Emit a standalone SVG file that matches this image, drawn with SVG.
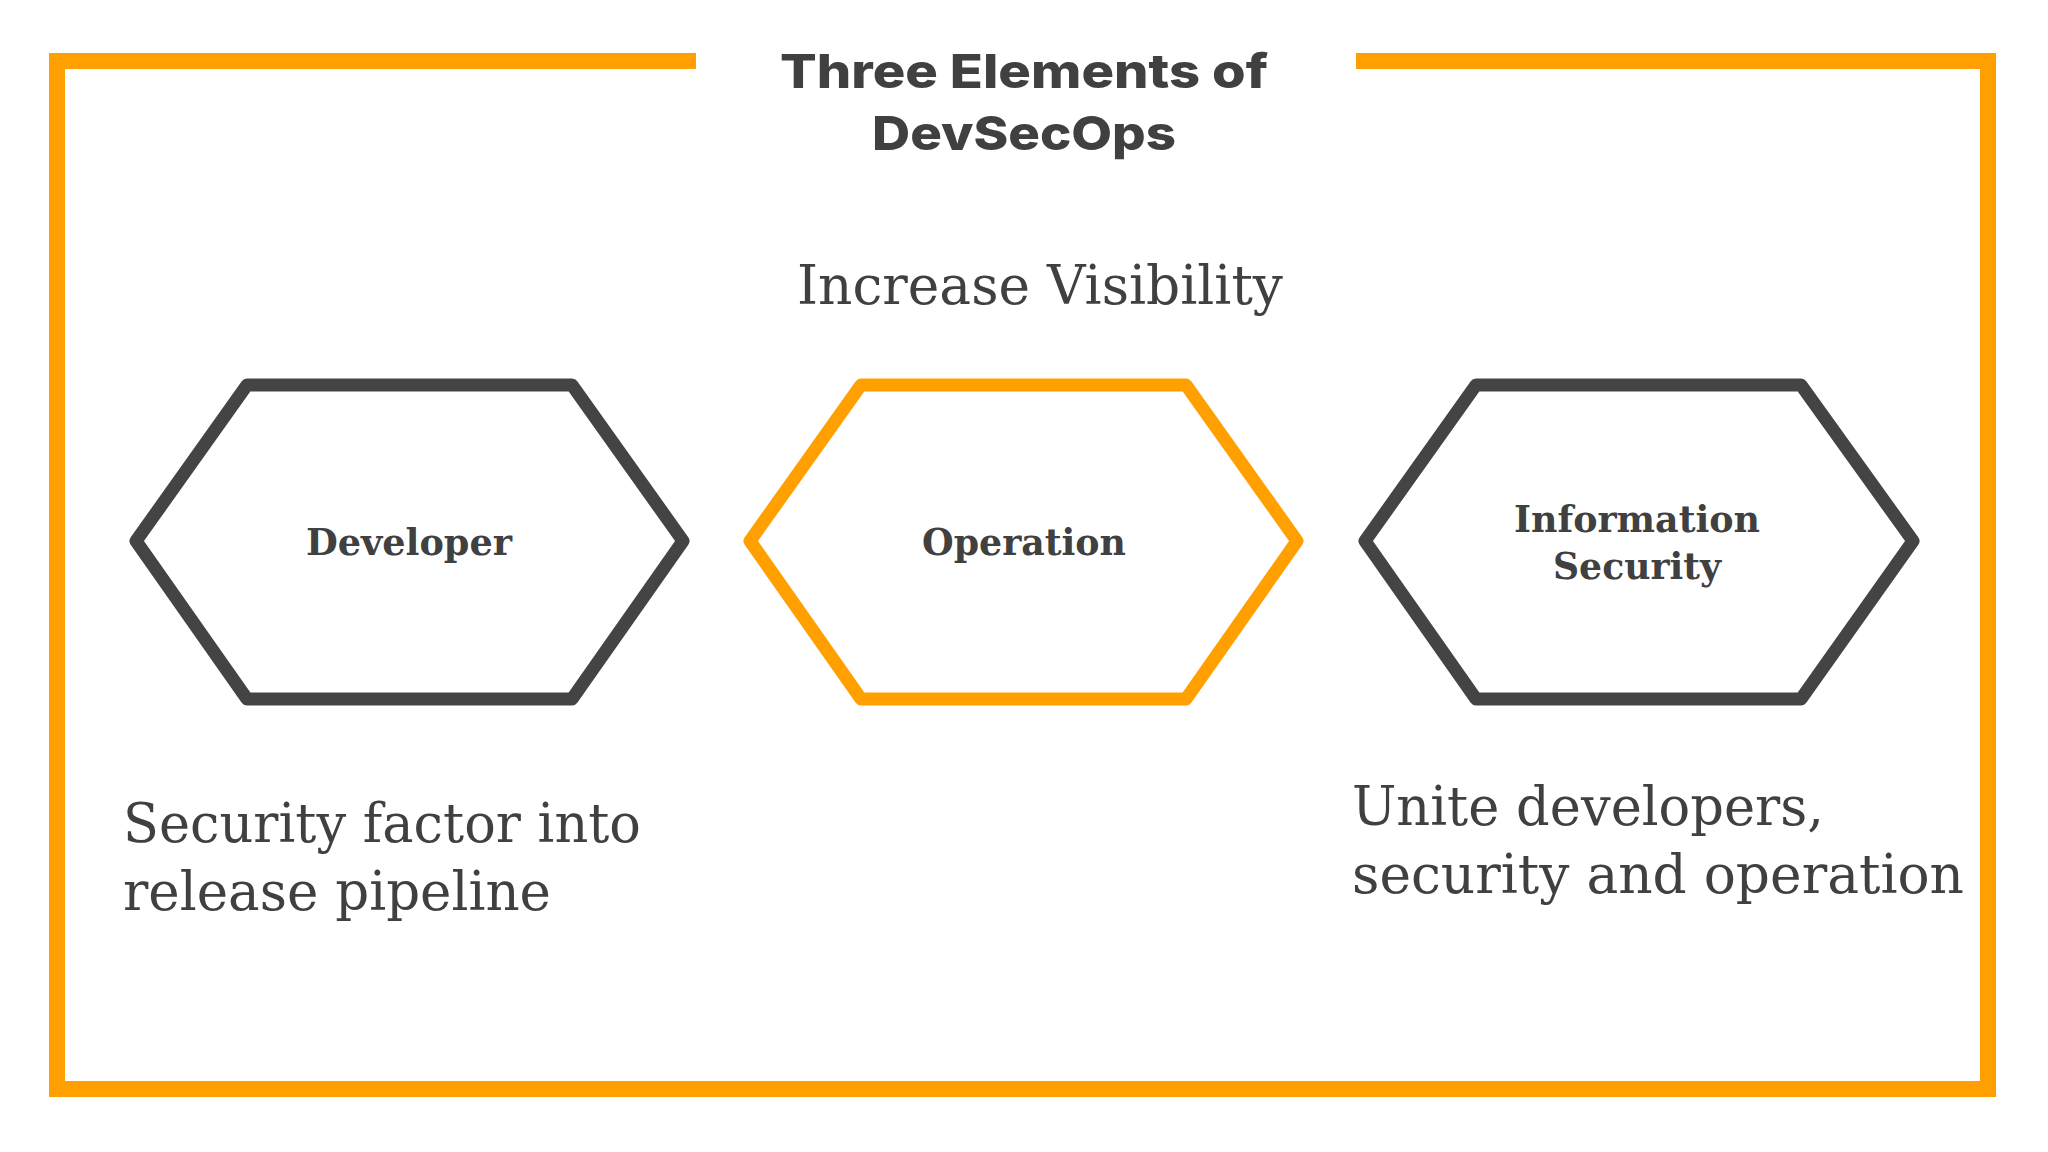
<svg xmlns="http://www.w3.org/2000/svg" width="2048" height="1152" viewBox="0 0 2048 1152">
<style>
.frame{fill:none;stroke:#FFA000;stroke-width:16}
.hex{fill:none;stroke-width:13;stroke-linejoin:round}
.dark{stroke:#444444}.org{stroke:#FFA000}
.title{font-family:Inter,"Open Sans","Liberation Sans",sans-serif;font-weight:800;font-size:47px;fill:#404040;text-anchor:middle}
.lbl{font-family:"DejaVu Serif","Liberation Serif",serif;font-weight:bold;font-size:37px;fill:#404040;text-anchor:middle}
.body{font-family:"DejaVu Serif","Liberation Serif",serif;font-size:54px;fill:#404040}
</style>
<rect width="2048" height="1152" fill="#ffffff"/>
<path class="frame" d="M696,61 H57 V1089 H1988 V61 H1356"/>
<text class="title" x="1024" y="88" textLength="488" lengthAdjust="spacingAndGlyphs">Three Elements of</text>
<text class="title" x="1024" y="150" textLength="304" lengthAdjust="spacingAndGlyphs">DevSecOps</text>
<text class="body" x="1040" y="304" text-anchor="middle" textLength="486" lengthAdjust="spacingAndGlyphs">Increase Visibility</text>
<g id="developer"><polygon class="hex dark" points="136,541 247,385 572,385 683,541 572,699 247,699"/><text class="lbl" x="409" y="555" textLength="206" lengthAdjust="spacingAndGlyphs">Developer</text></g>
<g id="operation"><polygon class="hex org" points="750,541 861,385 1186,385 1297,541 1186,699 861,699"/><text class="lbl" x="1024" y="555" textLength="204" lengthAdjust="spacingAndGlyphs">Operation</text></g>
<g id="infosec"><polygon class="hex dark" points="1365,541 1476,385 1801,385 1913,541 1801,699 1476,699"/><text class="lbl" x="1637" y="532" textLength="246" lengthAdjust="spacingAndGlyphs">Information</text><text class="lbl" x="1637" y="579" textLength="168" lengthAdjust="spacingAndGlyphs">Security</text></g>
<g id="connectors"/>
<text class="body" x="123" y="842" textLength="518" lengthAdjust="spacingAndGlyphs">Security factor into</text>
<text class="body" x="123" y="910" textLength="428" lengthAdjust="spacingAndGlyphs">release pipeline</text>
<text class="body" x="1352" y="825" textLength="472" lengthAdjust="spacingAndGlyphs">Unite developers,</text>
<text class="body" x="1352" y="893" textLength="612" lengthAdjust="spacingAndGlyphs">security and operation</text>
</svg>
